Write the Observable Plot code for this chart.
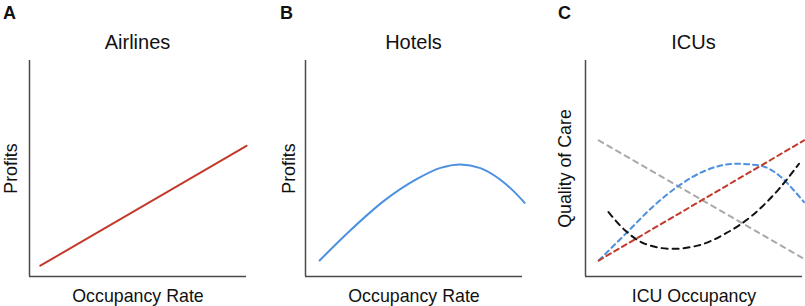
<!DOCTYPE html>
<html><head><meta charset="utf-8">
<script src="https://cdn.jsdelivr.net/npm/d3@7"></script>
<script src="https://cdn.jsdelivr.net/npm/@observablehq/plot@0.6"></script>
<style>
html,body{margin:0;padding:0;background:#fff;overflow:hidden;}
#wrap{position:relative;width:805px;height:306px;overflow:hidden;font-family:"Liberation Sans",Arial,Helvetica,sans-serif;color:#111;}
.letter{position:absolute;font-weight:bold;font-size:18px;line-height:18px;white-space:nowrap;}
.title{position:absolute;font-size:20px;line-height:20px;text-align:center;white-space:nowrap;}
.panel{position:absolute;top:55px;}
.panel svg{overflow:visible;display:block;}
</style></head><body><div id="wrap"></div>
<script>
const panelLetters = ["A", "B", "C"];
const panelTitles = ["Airlines", "Hotels", "ICUs"];
const xLabels = ["Occupancy Rate", "Occupancy Rate", "ICU Occupancy"];
const yLabels = ["Profits", "Profits", "Quality of Care"];

const airlinesX = [5, 100];
const airlinesY = [5, 60.5];

const hotelsX = [6.5, 20.6, 36.0, 51.4, 62.2, 71.4, 80.6, 89.8, 96.0, 101.0];
const hotelsY = [7.4, 21.3, 34.9, 45.2, 50.3, 51.9, 50.2, 44.8, 39.4, 34.1];

const icuGreyX = [6.1, 100.7];
const icuGreyY = [63.0, 8.2];
const icuRedX = [6.1, 100.7];
const icuRedY = [7.4, 63.0];
const icuBlueX = [6.1, 20.0, 30.8, 43.1, 55.4, 69.2, 80.0, 89.2, 95.4, 100.7];
const icuBlueY = [7.4, 21.3, 32.1, 42.1, 49.1, 52.2, 51.4, 46.8, 40.6, 34.4];
const icuBlackX = [10.6, 18.3, 27.5, 39.8, 52.1, 64.4, 76.8, 89.2, 98.4];
const icuBlackY = [29.8, 21.3, 15.1, 12.8, 14.4, 19.8, 28.2, 40.6, 52.2];

const FONT = '"Liberation Sans", Arial, Helvetica, sans-serif';
const wrap = document.getElementById("wrap");

function pts(xs, ys) { return xs.map((x, i) => ({x, y: ys[i]})); }

const layouts = [
  {left: 0, width: 260, marginLeft: 29, marginRight: 14, yDx: -13, letterX: 3},
  {left: 270, width: 260, marginLeft: 35, marginRight: 8, yDx: -11, letterX: 280},
  {left: 540, width: 265, marginLeft: 45, marginRight: 3, yDx: -15, letterX: 558}
];

const panelMarks = [
  [Plot.line(pts(airlinesX, airlinesY), {x: "x", y: "y", stroke: "#c33a2c", strokeWidth: 2})],
  [Plot.line(pts(hotelsX, hotelsY), {x: "x", y: "y", stroke: "#4d90e0", strokeWidth: 2, curve: "monotone-x"})],
  [
    Plot.line(pts(icuGreyX, icuGreyY), {x: "x", y: "y", stroke: "#a9a9a9", strokeWidth: 2, strokeDasharray: "5,5"}),
    Plot.line(pts(icuBlueX, icuBlueY), {x: "x", y: "y", stroke: "#4d90e0", strokeWidth: 2, strokeDasharray: "5,4", curve: "monotone-x"}),
    Plot.line(pts(icuRedX, icuRedY), {x: "x", y: "y", stroke: "#c33a2c", strokeWidth: 2, strokeDasharray: "5,4"}),
    Plot.line(pts(icuBlackX, icuBlackY), {x: "x", y: "y", stroke: "#111", strokeWidth: 2, strokeDasharray: "6,5", curve: "monotone-x"})
  ]
];

layouts.forEach((L, i) => {
  const frameCenter = L.left + L.marginLeft + (L.width - L.marginLeft - L.marginRight) / 2;

  const letter = document.createElement("div");
  letter.className = "letter";
  letter.textContent = panelLetters[i];
  letter.style.left = L.letterX + "px";
  letter.style.top = "4px";
  wrap.appendChild(letter);

  const title = document.createElement("div");
  title.className = "title";
  title.textContent = panelTitles[i];
  title.style.left = (frameCenter - 100) + "px";
  title.style.width = "200px";
  title.style.top = "32px";
  wrap.appendChild(title);

  const svg = Plot.plot({
    width: L.width,
    height: 251,
    marginTop: 5,
    marginBottom: 30,
    marginLeft: L.marginLeft,
    marginRight: L.marginRight,
    x: {domain: [0, 100], axis: null},
    y: {domain: [0, 100], axis: null},
    style: {fontFamily: FONT, fontSize: "17.8px", color: "#111", background: "transparent", overflow: "visible"},
    marks: [
      ...panelMarks[i],
      Plot.ruleX([0], {stroke: "#4a4a4a", strokeWidth: 1.5}),
      Plot.ruleY([0], {stroke: "#4a4a4a", strokeWidth: 1.5}),
      Plot.text([xLabels[i]], {frameAnchor: "bottom", textAnchor: "middle", lineAnchor: "bottom", dy: 25, fontSize: 17.8, fill: "#111"}),
      Plot.text([yLabels[i]], {frameAnchor: "left", textAnchor: "middle", rotate: -90, lineAnchor: "bottom", dx: L.yDx, fontSize: 17.8, fill: "#111"})
    ]
  });
  const holder = document.createElement("div");
  holder.className = "panel";
  holder.style.left = L.left + "px";
  holder.appendChild(svg);
  wrap.appendChild(holder);
});
</script>
</body></html>
